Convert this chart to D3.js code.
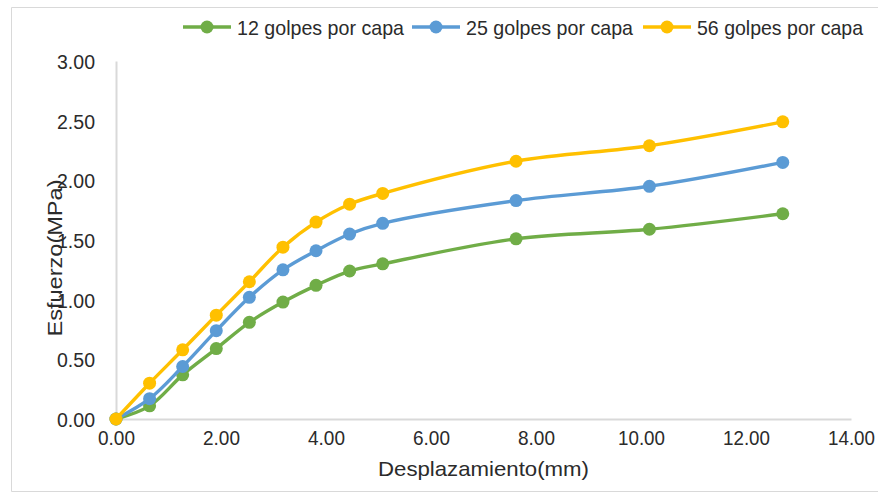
<!DOCTYPE html>
<html>
<head>
<meta charset="utf-8">
<script src="https://cdn.jsdelivr.net/npm/d3@7"></script>
<style>
  html, body { margin: 0; padding: 0; background: #ffffff; }
  svg { display: block; }
  text { font-family: "Liberation Sans", Arial, sans-serif; fill: #2b2b2b; }
</style>
</head>
<body>
<svg id="chart" width="878" height="493"></svg>
<script>
// Displacement (mm) readings and stress (MPa) for each compaction energy
const desplazamiento = [0, 0.64, 1.27, 1.91, 2.54, 3.18, 3.81, 4.45, 5.08, 7.62, 10.16, 12.70];
const golpes12 = [0, 0.11, 0.37, 0.59, 0.81, 0.98, 1.12, 1.24, 1.30, 1.51, 1.59, 1.72];
const golpes25 = [0, 0.17, 0.44, 0.74, 1.02, 1.25, 1.41, 1.55, 1.64, 1.83, 1.95, 2.15];
const golpes56 = [0, 0.30, 0.58, 0.87, 1.15, 1.44, 1.65, 1.80, 1.89, 2.16, 2.29, 2.49];
const seriesNames = ["12 golpes por capa", "25 golpes por capa", "56 golpes por capa"];
const seriesColors = ["#70AD47", "#5B9BD5", "#FFC000"];
const xTicks = [0, 2, 4, 6, 8, 10, 12, 14];
const yTicks = [0, 0.5, 1, 1.5, 2, 2.5, 3];

const series = [golpes12, golpes25, golpes56].map((vals, i) => ({
  name: seriesNames[i],
  color: seriesColors[i],
  points: vals.map((v, j) => ({ x: desplazamiento[j], y: v }))
}));

const svg = d3.select("#chart");

// outer chart frame
svg.append("path")
  .attr("d", "M880,7.5H11.5V491.5H880")
  .attr("fill", "none")
  .attr("stroke", "#d9d9d9")
  .attr("stroke-width", 1);

const plot = { left: 116, right: 851, top: 61, bottom: 419 };

const x = d3.scaleLinear().domain([0, 14]).range([plot.left, plot.right]);
const y = d3.scaleLinear().domain([0, 3]).range([plot.bottom, plot.top]);

// condense text horizontally to a given width
function fitWidth(sel, w) {
  sel.attr("textLength", w).attr("lengthAdjust", "spacingAndGlyphs");
}

// Y axis
const yAxis = svg.append("g")
  .attr("transform", `translate(${plot.left},0)`)
  .call(d3.axisLeft(y).tickValues(yTicks).tickFormat(d3.format(".2f")).tickSize(0).tickPadding(21));
yAxis.select(".domain").attr("stroke", "#d9d9d9").attr("stroke-width", 2);
yAxis.selectAll(".tick text")
  .attr("font-size", 20.5)
  .attr("font-family", "Liberation Sans, Arial, sans-serif")
  .attr("fill", "#2b2b2b")
  .attr("dy", "0.36em")
  .call(fitWidth, 38);

// X axis
const xAxis = svg.append("g")
  .attr("transform", `translate(0,${plot.bottom})`)
  .call(d3.axisBottom(x).tickValues(xTicks).tickFormat(d3.format(".2f")).tickSize(0).tickPadding(26));
xAxis.select(".domain").attr("stroke", "#d9d9d9").attr("stroke-width", 2);
xAxis.selectAll(".tick text")
  .attr("font-size", 20.5)
  .attr("font-family", "Liberation Sans, Arial, sans-serif")
  .attr("fill", "#2b2b2b")
  .attr("dy", "0")
  .each(function (d) { d3.select(this).call(fitWidth, d >= 10 ? 47 : 37); });

// axis titles
svg.append("text")
  .attr("x", 483.5).attr("y", 476)
  .attr("text-anchor", "middle")
  .attr("font-size", 21)
  .text("Desplazamiento(mm)")
  .call(fitWidth, 211);

svg.append("text")
  .attr("transform", "translate(62,258) rotate(-90)")
  .attr("text-anchor", "middle")
  .attr("font-size", 21)
  .text("Esfuerzo(MPa)")
  .call(fitWidth, 157);

// lines and markers
const line = d3.line()
  .x(d => x(d.x))
  .y(d => y(d.y))
  .curve(d3.curveCatmullRom);

const g = svg.append("g");
series.forEach(s => {
  g.append("path")
    .datum(s.points)
    .attr("d", line)
    .attr("fill", "none")
    .attr("stroke", s.color)
    .attr("stroke-width", 3.4)
    .attr("stroke-linejoin", "round");
  g.selectAll(null)
    .data(s.points)
    .enter().append("circle")
    .attr("cx", d => x(d.x))
    .attr("cy", d => y(d.y))
    .attr("r", 6.5)
    .attr("fill", s.color);
});

// legend
const legendItems = [
  { lineStart: 183, lineEnd: 231, textX: 237, textW: 167 },
  { lineStart: 412, lineEnd: 460, textX: 466, textW: 167 },
  { lineStart: 643, lineEnd: 691, textX: 697, textW: 166 }
];
const legendY = 27;
const legend = svg.append("g");
series.forEach((s, i) => {
  const it = legendItems[i];
  legend.append("line")
    .attr("x1", it.lineStart).attr("x2", it.lineEnd)
    .attr("y1", legendY).attr("y2", legendY)
    .attr("stroke", s.color).attr("stroke-width", 3.4);
  legend.append("circle")
    .attr("cx", (it.lineStart + it.lineEnd) / 2).attr("cy", legendY)
    .attr("r", 6.5).attr("fill", s.color);
  legend.append("text")
    .attr("x", it.textX).attr("y", legendY + 7.5)
    .attr("font-size", 21)
    .text(s.name)
    .call(fitWidth, it.textW);
});
</script>
</body>
</html>
